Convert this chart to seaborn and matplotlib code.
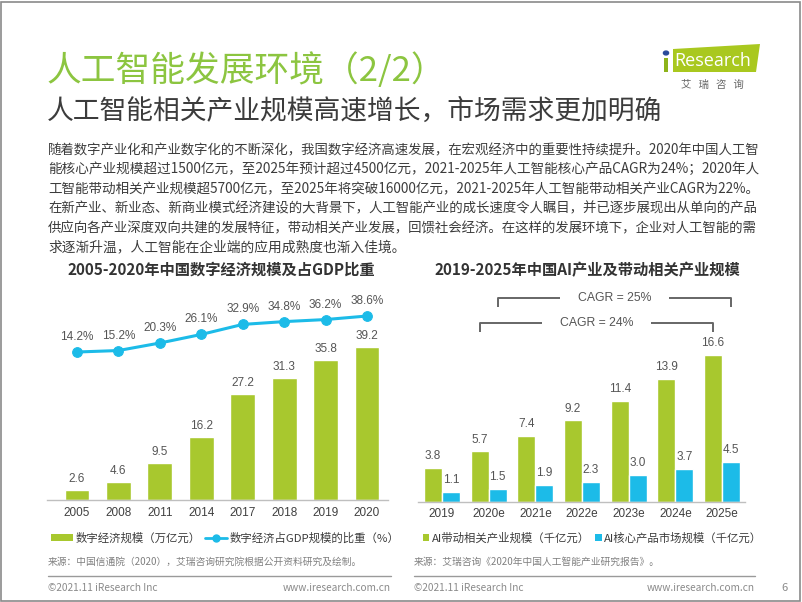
import matplotlib
matplotlib.use('Agg')
import matplotlib.pyplot as plt
import seaborn as sns
import pandas as pd
import numpy as np
from matplotlib.patches import Rectangle, Polygon, Patch
from matplotlib.lines import Line2D

sns.set_theme(style='white')
CJK = ['Noto Sans CJK SC', 'DejaVu Sans']
NUM = ['Liberation Sans', 'Noto Sans CJK SC', 'DejaVu Sans']
plt.rcParams['font.family'] = CJK

# ---------------- data ----------------
years_left = ['2005', '2008', '2011', '2014', '2017', '2018', '2019', '2020']
digital_scale = [2.6, 4.6, 9.5, 16.2, 27.2, 31.3, 35.8, 39.2]
gdp_share = [14.2, 15.2, 20.3, 26.1, 32.9, 34.8, 36.2, 38.6]

years_right = ['2019', '2020e', '2021e', '2022e', '2023e', '2024e', '2025e']
ai_related = [3.8, 5.7, 7.4, 9.2, 11.4, 13.9, 16.6]
ai_core = [1.1, 1.5, 1.9, 2.3, 3.0, 3.7, 4.5]
cagr_labels = ['CAGR = 25%', 'CAGR = 24%']

left_legend = ['数字经济规模（万亿元）', '数字经济占GDP规模的比重（%）']
right_legend = ['AI带动相关产业规模（千亿元）', 'AI核心产品市场规模（千亿元）']

title = '人工智能发展环境（2/2）'
subtitle = '人工智能相关产业规模高速增长，市场需求更加明确'
paragraph = [
    '随着数字产业化和产业数字化的不断深化，我国数字经济高速发展，在宏观经济中的重要性持续提升。2020年中国人工智',
    '能核心产业规模超过1500亿元，至2025年预计超过4500亿元，2021-2025年人工智能核心产品CAGR为24%；2020年人',
    '工智能带动相关产业规模超5700亿元，至2025年将突破16000亿元，2021-2025年人工智能带动相关产业CAGR为22%。',
    '在新产业、新业态、新商业模式经济建设的大背景下，人工智能产业的成长速度令人瞩目，并已逐步展现出从单向的产品',
    '供应向各产业深度双向共建的发展特征，带动相关产业发展，回馈社会经济。在这样的发展环境下，企业对人工智能的需',
    '求逐渐升温，人工智能在企业端的应用成熟度也渐入佳境。',
]
left_title = '2005-2020年中国数字经济规模及占GDP比重'
right_title = '2019-2025年中国AI产业及带动相关产业规模'
source_left = '来源：中国信通院（2020），艾瑞咨询研究院根据公开资料研究及绘制。'
source_right = '来源：艾瑞咨询《2020年中国人工智能产业研究报告》。'
footer_left = '©2021.11 iResearch Inc'
footer_url = 'www.iresearch.com.cn'
page_no = '6'

# ---------------- style ----------------
GREEN = '#a8c82e'
BLUE = '#1cbbe8'
TITLE_GREEN = '#8cc540'
DARK = '#3c3c3c'
LABEL = '#555555'
GRAY_LINE = '#bfbfbf'

W, H = 802, 602
fig = plt.figure(figsize=(W / 100, H / 100), dpi=100)
fig.patch.set_facecolor('white')


def fx(x):
    return x / W


def fy(y):
    return 1 - y / H


# border
fig.add_artist(Rectangle((fx(1), fy(601)), fx(799), 1 - fy(599) - 0.0, transform=fig.transFigure,
                         fill=False, edgecolor='#8a8a8a', lw=1.2))

# titles
fig.text(fx(47), fy(71), title, color=TITLE_GREEN, fontsize=25, fontweight='light',
         va='center', ha='left')
fig.text(fx(47), fy(111), subtitle, color=DARK, fontsize=19.3, fontweight='light',
         va='center', ha='left')

# logo
logo = Polygon([[fx(673), fy(49)], [fx(760), fy(44)], [fx(756), fy(72)], [fx(673), fy(72)]],
               closed=True, transform=fig.transFigure, facecolor='#a9c81f', edgecolor='none')
fig.add_artist(logo)
fig.add_artist(Rectangle((fx(664), fy(72)), fx(4), fy(58) - fy(72), transform=fig.transFigure,
                         facecolor='#8db31a', edgecolor='none'))
fig.add_artist(plt.Circle((fx(666), fy(53)), 0.0032, transform=fig.transFigure, color='#2a4a9a'))
fig.text(fx(713), fy(61), 'Research', color='white', fontsize=13, family=['Open Sans', 'DejaVu Sans'],
         ha='center', va='center')
fig.text(fx(712), fy(85), '艾   瑞   咨   询', color='#666666', fontsize=7.5, ha='center', va='center')

# paragraph (justified to the same right edge)
para_texts = []
y0, dy = 150, 19.5
base_fs = 9.9
for i, line in enumerate(paragraph):
    t = fig.text(fx(48), fy(y0 + i * dy), line, color=DARK, fontsize=base_fs, va='center', ha='left')
    para_texts.append(t)
fig.canvas.draw()
renderer = fig.canvas.get_renderer()
for t in para_texts[:-1]:
    bb = t.get_window_extent(renderer)
    target = 760 - 48
    t.set_fontsize(base_fs * target / bb.width)

# ---------------- left chart ----------------
ax1 = fig.add_axes([fx(47), fy(500), fx(388) - fx(47), fy(300) - fy(500)])
df_left = pd.DataFrame({'year': years_left, 'scale': digital_scale})
sns.barplot(data=df_left, x='year', y='scale', color=GREEN, width=0.6, saturation=1, ax=ax1)
ax1.set_ylim(0, 200 / 3.9)
ax1.set_xlim(-0.724, 7.507)
for p, v in zip(ax1.patches, digital_scale):
    ax1.annotate(f'{v:.1f}', (p.get_x() + p.get_width() / 2, p.get_height()), xytext=(0, 8),
                 textcoords='offset points', ha='center', va='center', fontsize=8.5, color=LABEL,
                 family=NUM)

ax2 = ax1.twinx()
xpos = np.arange(len(years_left))
sns.lineplot(x=xpos, y=gdp_share, ax=ax2, color=BLUE, lw=2.2, marker='o', markersize=7,
             markeredgecolor=BLUE, markerfacecolor=BLUE)
ax2.set_ylim(-86.1, 49.45)
ax2.set_xlim(-0.724, 7.507)
for x, v in zip(xpos, gdp_share):
    ax2.annotate(f'{v:.1f}%', (x, v), xytext=(0, 10.8), textcoords='offset points', ha='center',
                 va='center', fontsize=8.5, color=LABEL, family=NUM)

for ax in (ax1, ax2):
    ax.set_yticks([])
    ax.set_ylabel('')
    ax.set_xlabel('')
    for s in ('top', 'left', 'right'):
        ax.spines[s].set_visible(False)
    ax.patch.set_alpha(0)
ax2.spines['bottom'].set_visible(False)
ax1.spines['bottom'].set_color(GRAY_LINE)
ax1.spines['bottom'].set_linewidth(1)
ax1.tick_params(axis='x', length=0, pad=5, labelsize=8.5, labelcolor='#404040')
for lab in ax1.get_xticklabels():
    lab.set_family(NUM)

fig.text(fx(221), fy(270), left_title, fontsize=11, fontweight='bold', color='#333333',
         ha='center', va='center')

# left legend
h_left = [Patch(facecolor=GREEN, edgecolor='none'),
          Line2D([0], [0], color=BLUE, lw=2, marker='o', markersize=5)]
fig.legend(h_left, left_legend, loc='center left', bbox_to_anchor=(fx(51), fy(538)), ncol=2,
           frameon=False, fontsize=8.2, handlelength=1.9, handleheight=0.55, handletextpad=0.25,
           columnspacing=0.4, borderaxespad=0, borderpad=0, labelcolor=DARK)

# ---------------- right chart ----------------
ax3 = fig.add_axes([fx(418), fy(502), fx(745) - fx(418), fy(290) - fy(502)])
df_right = pd.DataFrame({
    'year': years_right * 2,
    'value': ai_related + ai_core,
    'series': [right_legend[0]] * len(years_right) + [right_legend[1]] * len(years_right),
})
sns.barplot(data=df_right, x='year', y='value', hue='series', palette=[GREEN, BLUE], width=0.77,
            gap=0, saturation=1, ax=ax3, legend=False)
ax3.set_ylim(0, 212 / 8.86)
ax3.set_xlim(-0.514, 6.493)
for cont in ax3.containers:
    for p in cont:
        h = p.get_height()
        ax3.annotate(f'{h:.1f}', (p.get_x() + p.get_width() / 2, h), xytext=(0, 8.6),
                     textcoords='offset points', ha='center', va='center', fontsize=8.5,
                     color=LABEL, family=NUM)
ax3.set_yticks([])
ax3.set_ylabel('')
ax3.set_xlabel('')
for s in ('top', 'left', 'right'):
    ax3.spines[s].set_visible(False)
ax3.spines['bottom'].set_color(GRAY_LINE)
ax3.spines['bottom'].set_linewidth(1)
ax3.patch.set_alpha(0)
ax3.tick_params(axis='x', length=0, pad=4.5, labelsize=8.5, labelcolor='#404040')
for lab in ax3.get_xticklabels():
    lab.set_family(NUM)

# CAGR brackets
green_c = ax3.containers[0]
blue_c = ax3.containers[1]


def center(p):
    return p.get_x() + p.get_width() / 2


brackets = [
    (center(blue_c[1]), center(blue_c[-1]), 23.0, 22.0, cagr_labels[0]),
    (center(green_c[1]), center(green_c[-1]), 20.2, 19.2, cagr_labels[1]),
]
gap = 1.17
for xl, xr, ytop, ybot, lab in brackets:
    mid = (xl + xr) / 2
    ax3.plot([xl, xl, mid - gap], [ybot, ytop, ytop], color='#666666', lw=1.4, clip_on=False,
             solid_capstyle='butt')
    ax3.plot([mid + gap, xr, xr], [ytop, ytop, ybot], color='#666666', lw=1.4, clip_on=False,
             solid_capstyle='butt')
    ax3.text(mid, ytop, lab, ha='center', va='center', fontsize=8.8, color='#555555', family=NUM)

fig.text(fx(587), fy(270), right_title, fontsize=11, fontweight='bold', color='#333333',
         ha='center', va='center')

h_right = [Patch(facecolor=GREEN, edgecolor='none'), Patch(facecolor=BLUE, edgecolor='none')]
fig.legend(h_right, right_legend, loc='center left', bbox_to_anchor=(fx(423), fy(538)), ncol=2,
           frameon=False, fontsize=8.2, handlelength=0.55, handleheight=0.55, handletextpad=0.2,
           columnspacing=0.5, borderaxespad=0, borderpad=0, labelcolor=DARK)

# ---------------- sources & footer ----------------
fig.text(fx(48), fy(562), source_left, fontsize=7, color='#808080', ha='left', va='center')
fig.text(fx(414), fy(562), source_right, fontsize=7, color='#808080', ha='left', va='center')
fig.add_artist(Line2D([fx(48), fx(391)], [fy(576), fy(576)], transform=fig.transFigure,
                      color='#9a9a9a', lw=1))
fig.add_artist(Line2D([fx(414), fx(755)], [fy(576), fy(576)], transform=fig.transFigure,
                      color='#9a9a9a', lw=1))
for xl, xr in ((48, 391), (414, 755)):
    fig.text(fx(xl), fy(588), footer_left, fontsize=7.3, color='#8a8a8a', ha='left', va='center')
    fig.text(fx(xr), fy(588), footer_url, fontsize=7.3, color='#8a8a8a', ha='right', va='center')
fig.text(fx(784), fy(588), page_no, fontsize=8, color='#8a8a8a', ha='center', va='center')

fig.savefig('out.png', dpi=100, facecolor='white')
